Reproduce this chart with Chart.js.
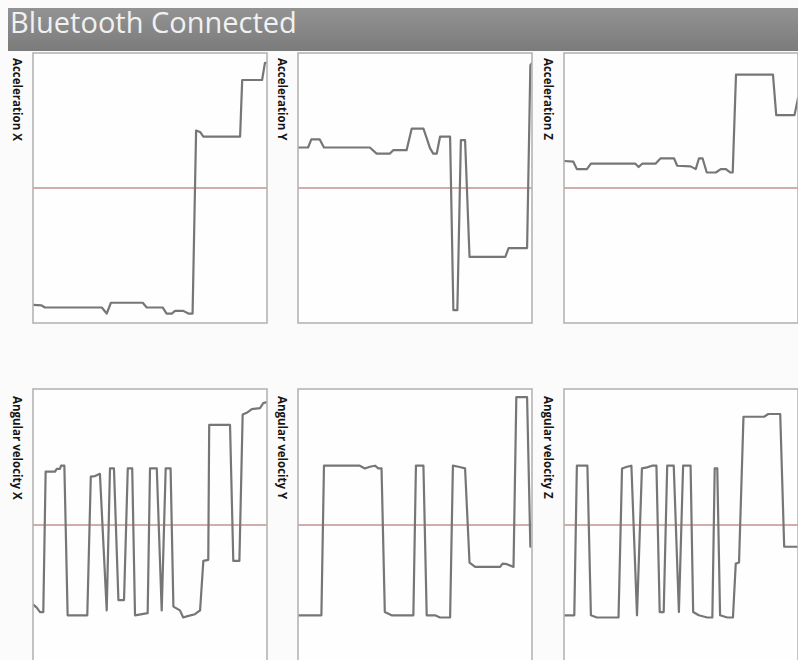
<!DOCTYPE html>
<html>
<head>
<meta charset="utf-8">
<script src="https://cdn.jsdelivr.net/npm/chart.js@4/dist/chart.umd.min.js"></script>
<style>
  html, body { margin: 0; padding: 0; }
  body { width: 798px; height: 660px; background: #fbfbfb; position: relative; overflow: hidden; font-family: "Open Sans", "Noto Sans", sans-serif; }
  #titlebar { position: absolute; left: 8px; top: 8px; width: 790px; height: 43px;
    background: linear-gradient(#939393, #7b7b7b); }
  #title { position: absolute; left: 2px; top: -1px; margin: 0; font-size: 29px; line-height: 29px;
    font-weight: 400; color: #f1f1f1; white-space: nowrap; }
  .panel { position: absolute; }
  .label { position: absolute; writing-mode: vertical-rl; font-size: 11.5px; line-height: 12px;
    font-weight: 700; color: #151515; white-space: nowrap; }
</style>
</head>
<body>
<div id="titlebar"><h1 id="title">Bluetooth Connected</h1></div>

<script>
// Sensor readings: sample time (s) and value. Acceleration in g, angular velocity in deg/s.
const panelTitles = ["Acceleration X", "Acceleration Y", "Acceleration Z",
                     "Angular velocity X", "Angular velocity Y", "Angular velocity Z"];

const accXTime  = [0, 0.37, 0.51, 2.94, 3.15, 3.33, 4.69, 4.86, 5.54, 5.71, 5.93, 6.07, 6.42, 6.64, 6.82, 6.97, 7.14, 7.28, 8.85, 8.94, 9.79, 9.91, 10];
const accXValue = [-1.73, -1.74, -1.77, -1.77, -1.86, -1.70, -1.70, -1.77, -1.77, -1.86, -1.86, -1.82, -1.82, -1.86, -1.86, 0.85, 0.83, 0.76, 0.76, 1.60, 1.60, 1.85, 1.86];

const accYTime  = [0, 0.43, 0.57, 0.93, 1.11, 3.07, 3.36, 3.93, 4.07, 4.64, 4.86, 5.36, 5.50, 5.64, 5.78, 5.93, 6.07, 6.50, 6.64, 6.81, 6.96, 7.14, 7.33, 8.86, 9.00, 9.79, 9.93, 10];
const accYValue = [0.60, 0.60, 0.72, 0.72, 0.60, 0.60, 0.51, 0.51, 0.56, 0.56, 0.88, 0.88, 0.74, 0.59, 0.51, 0.51, 0.76, 0.76, -1.81, -1.81, 0.71, 0.71, -1.02, -1.02, -0.89, -0.89, 1.82, 1.85];

const accZTime  = [0, 0.40, 0.55, 0.98, 1.15, 3.05, 3.19, 3.34, 3.91, 4.13, 4.70, 4.84, 5.41, 5.63, 5.77, 5.92, 6.10, 6.49, 6.70, 6.92, 7.10, 7.21, 7.35, 8.93, 9.07, 9.85, 10];
const accZValue = [0.40, 0.39, 0.28, 0.28, 0.36, 0.36, 0.31, 0.36, 0.36, 0.44, 0.44, 0.33, 0.32, 0.28, 0.44, 0.44, 0.23, 0.23, 0.28, 0.28, 0.23, 0.23, 1.68, 1.68, 1.08, 1.08, 1.33];

const gyroXTime  = [0, 0.16, 0.30, 0.44, 0.54, 0.94, 1.01, 1.15, 1.20, 1.34, 1.48, 2.32, 2.47, 2.65, 2.86, 3.15, 3.29, 3.46, 3.65, 3.89, 4.05, 4.24, 4.36, 4.90, 5.00, 5.29, 5.50, 5.67, 5.88, 6.00, 6.28, 6.42, 6.57, 6.92, 7.14, 7.28, 7.49, 7.53, 8.42, 8.56, 8.82, 8.96, 9.16, 9.35, 9.70, 9.84, 10];
const gyroXValue = [-146, -152, -160, -160, 98, 98, 103, 103, 109, 109, -166, -166, 89, 90, 94, -157, 104, 104, -138, -138, 104, 104, -166, -162, 104, 104, -157, 104, 104, -150, -157, -170, -168, -164, -157, -66, -64, 184, 184, -66, -66, 203, 207, 213, 215, 224, 226];

const gyroYTime  = [0, 1.00, 1.11, 2.64, 2.86, 3.07, 3.29, 3.43, 3.57, 3.71, 4.00, 4.93, 5.04, 5.36, 5.50, 5.86, 6.07, 6.50, 6.62, 6.86, 7.14, 7.33, 7.57, 8.64, 8.74, 8.93, 9.21, 9.33, 9.79, 9.93];
const gyroYValue = [-166, -166, 109, 109, 104, 107, 109, 104, 104, -160, -166, -166, 109, 109, -166, -166, -170, -170, 109, 107, 104, -69, -77, -77, -71, -72, -77, 235, 235, -40];

const gyroZTime  = [0, 0.44, 0.55, 1.00, 1.15, 1.40, 2.33, 2.48, 2.69, 2.88, 3.12, 3.33, 3.55, 3.76, 3.95, 4.09, 4.26, 4.41, 4.69, 4.91, 5.09, 5.41, 5.52, 5.76, 6.12, 6.34, 6.44, 6.55, 6.67, 6.98, 7.22, 7.34, 7.48, 7.67, 8.55, 8.73, 9.24, 9.41, 10];
const gyroZValue = [-166, -166, 109, 109, -166, -170, -170, 104, 107, 109, -166, 104, 106, 109, 109, -160, -160, 109, 109, -160, 109, 109, -160, -166, -170, -170, 104, 104, -166, -170, -170, -71, -69, 199, 199, 204, 204, -40, -40];

const accRange  = [-2, 2];
const gyroRange = [-250, 250];
const timeRange = [0, 10];

// Plot boxes on the page: [left, top, width, height]
const boxes = [
  [33, 53, 234, 270], [298, 53, 234, 270], [564, 53, 234, 270],
  [33, 389, 234, 272], [298, 389, 234, 272], [564, 389, 234, 272]
];
const series = [
  [accXTime, accXValue, accRange], [accYTime, accYValue, accRange], [accZTime, accZValue, accRange],
  [gyroXTime, gyroXValue, gyroRange], [gyroYTime, gyroYValue, gyroRange], [gyroZTime, gyroZValue, gyroRange]
];

// Panel frame and background around the plotting area
const framePlugin = {
  id: 'frame',
  beforeDraw(chart) {
    const { ctx, chartArea: a } = chart;
    ctx.save();
    ctx.fillStyle = '#fefefe';
    ctx.fillRect(a.left, a.top, a.right - a.left, a.bottom - a.top);
    ctx.restore();
  },
  afterDraw(chart) {
    const { ctx, chartArea: a } = chart;
    ctx.save();
    ctx.strokeStyle = '#b4b4b4';
    ctx.lineWidth = 1.6;
    ctx.strokeRect(a.left, a.top, a.right - a.left, a.bottom - a.top);
    ctx.restore();
  }
};

const PAD = 3;
boxes.forEach((b, i) => {
  const [left, top, w, h] = b;
  const wrap = document.createElement('div');
  wrap.className = 'panel';
  wrap.style.left = (left - PAD) + 'px';
  wrap.style.top = (top - PAD) + 'px';
  wrap.style.width = (w + 2 * PAD) + 'px';
  wrap.style.height = (h + 2 * PAD) + 'px';
  const canvas = document.createElement('canvas');
  wrap.appendChild(canvas);
  document.body.appendChild(wrap);

  const label = document.createElement('div');
  label.className = 'label';
  label.textContent = panelTitles[i];
  label.style.left = (left - 22) + 'px';
  label.style.top = (i < 3 ? 58 : 396) + 'px';
  document.body.appendChild(label);

  const [times, values, range] = series[i];
  const points = times.map((t, k) => ({ x: t, y: values[k] }));

  new Chart(canvas, {
    type: 'line',
    data: {
      datasets: [
        { data: points, borderColor: '#767676', borderWidth: 2.2, pointRadius: 0,
          tension: 0, borderJoinStyle: 'round', borderCapStyle: 'round', fill: false },
        { data: [{ x: timeRange[0], y: 0 }, { x: timeRange[1], y: 0 }],
          borderColor: '#c49090', borderWidth: 1.4, pointRadius: 0, fill: false }
      ]
    },
    options: {
      responsive: true,
      maintainAspectRatio: false,
      animation: false,
      events: [],
      layout: { padding: PAD },
      plugins: { legend: { display: false }, tooltip: { enabled: false } },
      scales: {
        x: { type: 'linear', min: timeRange[0], max: timeRange[1], display: false },
        y: { type: 'linear', min: range[0], max: range[1], display: false }
      }
    },
    plugins: [framePlugin]
  });
});
</script>
</body>
</html>
